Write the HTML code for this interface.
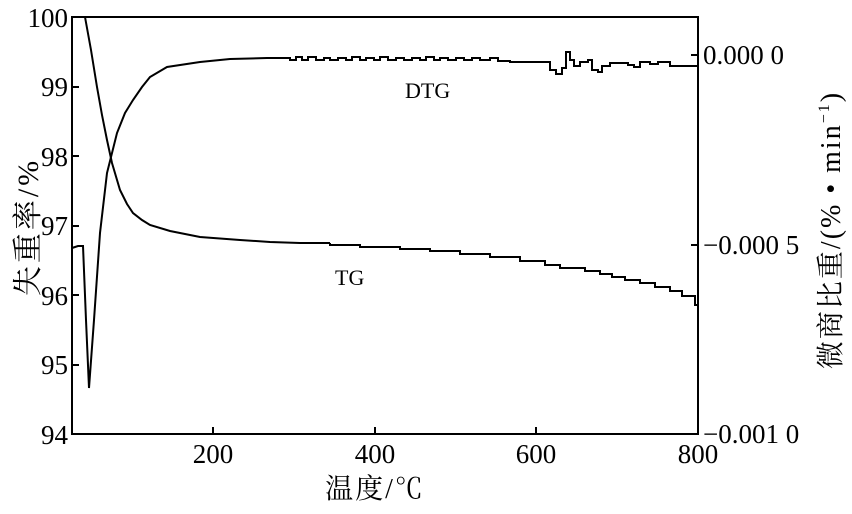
<!DOCTYPE html>
<html><head><meta charset="utf-8"><style>
body{margin:0;background:#fff;}
svg text{font-family:"Liberation Serif","Noto Serif CJK SC",serif;fill:#000;}
</style></head><body>
<svg width="852" height="509" viewBox="0 0 852 509" xmlns="http://www.w3.org/2000/svg">
<rect x="72" y="17" width="626" height="417" fill="none" stroke="#000" stroke-width="2"/>
<g stroke="#000" stroke-width="2">
<line x1="72" y1="87" x2="79" y2="87"/><line x1="72" y1="156" x2="79" y2="156"/>
<line x1="72" y1="226" x2="79" y2="226"/><line x1="72" y1="295" x2="79" y2="295"/>
<line x1="72" y1="365" x2="79" y2="365"/>
<line x1="213" y1="434" x2="213" y2="427"/><line x1="375" y1="434" x2="375" y2="427"/><line x1="536" y1="434" x2="536" y2="427"/>
<line x1="698" y1="55" x2="691" y2="55"/><line x1="698" y1="245" x2="691" y2="245"/>
</g>
<g font-size="27" text-anchor="end">
<text x="68" y="27">100</text><text x="68" y="96">99</text><text x="68" y="166">98</text>
<text x="68" y="235">97</text><text x="68" y="305">96</text><text x="68" y="374">95</text><text x="68" y="444">94</text>
</g>
<g font-size="27" text-anchor="middle">
<text x="213" y="463">200</text><text x="375" y="463">400</text><text x="536" y="463">600</text><text x="698" y="463">800</text>
</g>
<g font-size="27">
<text x="703" y="64">0.000 0</text><text x="703" y="254">−0.000 5</text><text x="703" y="443">−0.001 0</text>
</g>
<text x="375" y="498" font-size="28" text-anchor="middle" letter-spacing="2">温度/℃</text>
<text transform="translate(38,227) rotate(-90)" font-size="30" text-anchor="middle" letter-spacing="3">失重率/%</text>
<text transform="translate(840,230) rotate(-90)" font-size="28" text-anchor="middle" letter-spacing="2">微商比重/(% • min<tspan dy="-11" font-size="16">−1</tspan><tspan dy="11">)</tspan></text>
<text x="405" y="98" font-size="22">DTG</text>
<text x="335" y="285" font-size="22">TG</text>
<g fill="none" stroke="#000" stroke-width="2">
<polyline points="85,17 91,50 97,87 102,115 107,140 112,163 120,190 127,204 133,213 142,220 150,225 170,231 200,237 240,240 270,242 300,243 330,243"/>
<polyline points="330,243 330,245 360,245 360,247 400,247 400,249 430,249 430,251 460,251 460,254 490,254 490,257 520,257 520,261 545,261 545,265 560,265 560,268 585,268 585,271 600,271 600,274 612,274 612,277 625,277 625,280 640,280 640,283 655,283 655,287 670,287 670,291 682,291 682,296 695,296 695,305 698,305 698,308"/>
<polyline points="72,248 78,246 83,246 86,320 89,388 94,320 100,233 107,173 117,133 125,113 133,100 142,87 150,77 167,67 200,62 230,59 267,58 280,58"/>
<polyline points="280,58 290,58 290,60 296,60 296,57 302,57 302,60 308,60 308,57 316,57 316,60 324,60 324,58 330,58 330,60 338,60 338,58 346,58 346,60 352,60 352,57 360,57 360,60 366,60 366,58 374,58 374,60 380,60 380,57 388,57 388,60 396,60 396,58 404,58 404,60 412,60 412,58 420,58 420,60 426,60 426,57 434,57 434,60 440,60 440,58 448,58 448,60 456,60 456,58 464,58 464,60 472,60 472,58 480,58 480,60 490,60 490,58 498,58 498,61 510,61 510,62 550,62 550,70 556,70 556,74 562,74 562,68 566,68 566,52 570,52 570,60 574,60 574,66 580,66 580,62 588,62 588,60 592,60 592,70 598,70 598,72 602,72 602,66 610,66 610,63 628,63 628,65 634,65 634,67 640,67 640,62 650,62 650,64 658,64 658,62 670,62 670,66 684,66 684,66 698,66"/>
</g>
</svg>
</body></html>
